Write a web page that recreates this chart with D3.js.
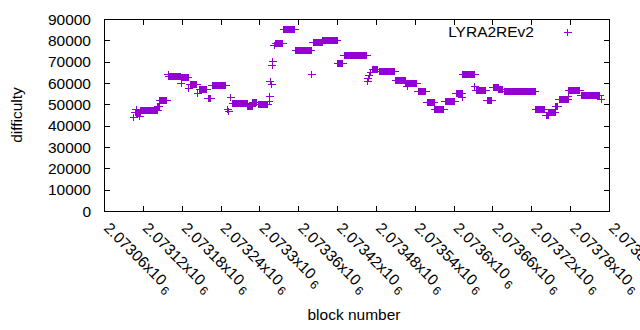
<!DOCTYPE html>
<html><head><meta charset="utf-8">
<script src="https://cdn.jsdelivr.net/npm/d3@7"></script>
<style>html,body{margin:0;padding:0;background:#fff;}svg{display:block;font-family:"Liberation Sans",Arial,sans-serif;}</style>
</head><body><svg id="c" width="640" height="330"></svg>
<script>
// Runs of blocks with the same difficulty (first block, last block, difficulty)
const runFirstBlock = [2073106,2073108,2073110,2073115,2073117,2073143,2073146,2073159,2073160,2073179,2073180,2073191,2073193,2073205,2073208,2073221,2073227,2073251,2073253,2073256,2073259,2073282,2073290,2073298,2073315,2073316,2073317,2073319,2073320,2073321,2073323,2073325,2073338,2073356,2073381,2073383,2073398,2073421,2073431,2073467,2073468,2073470,2073472,2073475,2073485,2073511,2073526,2073528,2073545,2073559,2073571,2073587,2073604,2073613,2073614,2073633,2073635,2073652,2073661,2073670,2073678,2073727,2073743,2073747,2073758,2073763,2073777,2073778,2073797,2073828];
const runLastBlock  = [2073106,2073116,2073110,2073115,2073143,2073145,2073157,2073159,2073178,2073179,2073190,2073191,2073203,2073205,2073219,2073225,2073248,2073251,2073253,2073256,2073281,2073289,2073296,2073313,2073315,2073316,2073317,2073319,2073320,2073321,2073323,2073336,2073355,2073380,2073381,2073397,2073420,2073429,2073466,2073467,2073468,2073470,2073472,2073483,2073509,2073525,2073543,2073528,2073557,2073570,2073585,2073602,2073613,2073613,2073633,2073633,2073650,2073659,2073669,2073676,2073726,2073741,2073746,2073757,2073761,2073777,2073777,2073795,2073826,2073828];
const runDifficulty = [44000,46300,47500,44500,47300,48800,51800,64200,63100,59800,62700,57500,59200,55000,56900,52800,58900,47800,46500,53300,50500,49100,50800,49900,51200,53600,60600,59100,68400,70000,77800,78600,85200,75400,64200,79000,80000,69200,73000,60600,62200,63700,64800,66100,65600,61000,59900,58300,55900,50900,47700,51200,55000,53000,64100,58300,56600,51800,57800,56900,56200,47600,44800,46300,49200,52300,53600,56400,54200,52500];
const xTickValues = d3.range(2073060, 2073841, 60);
const yTickValues = d3.range(0, 90001, 10000);
const seriesName = "LYRA2REv2";
const xTitle = "block number";
const yTitle = "difficulty";

// one point per block
const points = [];
runFirstBlock.forEach((b0, i) => {
  for (let b = b0; b <= runLastBlock[i]; b++) points.push({block: b, value: runDifficulty[i]});
});

const L = 104, R = 609, T = 19, B = 211;
const svg = d3.select("#c");
const x = d3.scaleLinear().domain([2073060, 2073840]).range([L, R]);
const y = d3.scaleLinear().domain([0, 90000]).range([B, T]);
const color = "#9400d3";
const fs = 15.5;

// frame
svg.append("rect").attr("x", L + 0.5).attr("y", T + 0.5).attr("width", R - L).attr("height", B - T)
  .attr("fill", "none").attr("stroke", "#000").attr("stroke-width", 1);

// y ticks (inward, mirrored)
const tk = 6;
const yt = svg.append("g");
yTickValues.forEach(v => {
  const yy = Math.round(y(v)) + 0.5;
  yt.append("line").attr("x1", L).attr("x2", L + tk).attr("y1", yy).attr("y2", yy).attr("stroke", "#000");
  yt.append("line").attr("x1", R + 1).attr("x2", R + 1 - tk).attr("y1", yy).attr("y2", yy).attr("stroke", "#000");
  yt.append("text").attr("x", 91).attr("y", y(v)).attr("dy", "0.36em").attr("text-anchor", "end")
    .attr("font-size", fs).attr("fill", "#000").text(v);
});

// x ticks
const fmt = d3.format(".6~g");
const xt = svg.append("g");
xTickValues.forEach(v => {
  const xx = Math.round(x(v)) + 0.5;
  xt.append("line").attr("x1", xx).attr("x2", xx).attr("y1", B + 1).attr("y2", B + 1 - tk).attr("stroke", "#000");
  xt.append("line").attr("x1", xx).attr("x2", xx).attr("y1", T).attr("y2", T + tk).attr("stroke", "#000");
  const t = xt.append("text").attr("transform", `translate(${x(v) - 1},229) rotate(45)`)
    .attr("font-size", fs).attr("fill", "#000");
  t.append("tspan").text(fmt(v / 1e6) + "x10");
  t.append("tspan").attr("dx", 3).attr("dy", 4).attr("font-size", 12).text(String(Math.round(Math.log10(1e6))));
});

// points
const plus = "M-4,0H4M0,-3.5V3.5";
svg.append("g").attr("shape-rendering", "crispEdges").selectAll("path").data(points).join("path")
  .attr("transform", d => `translate(${x(d.block)},${y(d.value)})`)
  .attr("d", plus).attr("fill", "none").attr("stroke", color).attr("stroke-width", 1);

// legend
svg.append("text").attr("x", 534).attr("y", 37).attr("text-anchor", "end").attr("font-size", fs).attr("fill", "#000").text(seriesName);
svg.append("path").attr("transform", "translate(567.5,32.5)").attr("d", plus).attr("fill", "none").attr("stroke", color).attr("shape-rendering", "crispEdges");

// axis titles
svg.append("text").attr("x", 354).attr("y", 320).attr("text-anchor", "middle").attr("font-size", fs).attr("fill", "#000").text(xTitle);
svg.append("text").attr("transform", "translate(22,115) rotate(-90)").attr("text-anchor", "middle").attr("font-size", fs).attr("fill", "#000").text(yTitle);
</script></body></html>
